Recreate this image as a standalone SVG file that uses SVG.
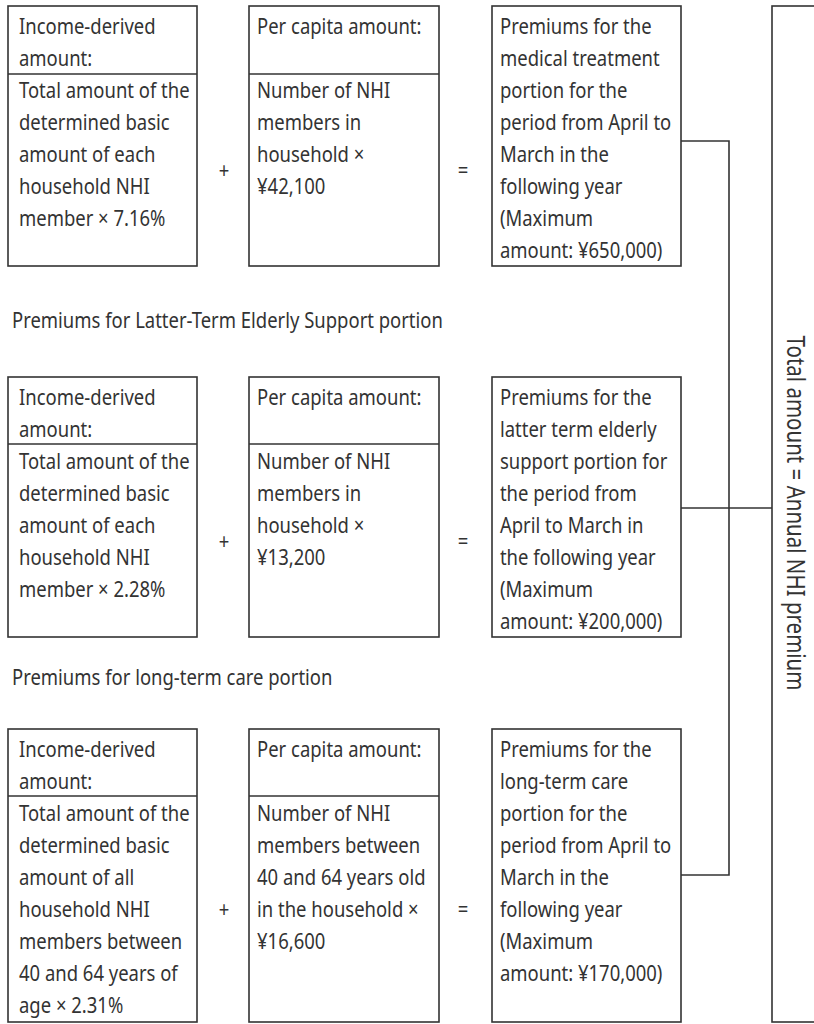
<svg xmlns="http://www.w3.org/2000/svg" width="814" height="1024" viewBox="0 0 814 1024">
<style>
.box{fill:#fff;stroke:#333;stroke-width:1.6}
.ln{fill:none;stroke:#333;stroke-width:1.6}
text{font-family:"Noto Sans","Open Sans",sans-serif;font-size:22px;fill:#333}
.op{text-anchor:middle}
.vt{font-size:25px;text-anchor:middle}
</style>
<rect width="814" height="1024" fill="#fff"/>
<g id="connectors">
<polyline class="ln" points="681,141 729,141 729,875 681,875"/>
<line class="ln" x1="681" y1="508" x2="772" y2="508"/>
</g>
<g id="total">
<rect class="box" x="772" y="6" width="60" height="1016"/>
<text class="vt" transform="translate(787,513) rotate(90) scale(0.82,1)" x="0" y="0">Total amount = Annual NHI premium</text>
</g>
<g id="row1">
<g id="r1-income">
<rect class="box" x="8" y="6" width="189" height="260"/>
<line class="ln" x1="8" y1="74" x2="197" y2="74"/>
<g transform="scale(0.84,1)">
<text x="22.6" y="34">Income-derived</text>
<text x="22.6" y="66">amount:</text>
<text x="22.6" y="98">Total amount of the</text>
<text x="22.6" y="130">determined basic</text>
<text x="22.6" y="162">amount of each</text>
<text x="22.6" y="194">household NHI</text>
<text x="22.6" y="226">member × 7.16%</text>
</g>
</g>
<text class="op" transform="scale(0.84,1)" x="266.7" y="178">+</text>
<g id="r1-capita">
<rect class="box" x="249" y="6" width="190" height="260"/>
<line class="ln" x1="249" y1="74" x2="439" y2="74"/>
<g transform="scale(0.84,1)">
<text x="306" y="34">Per capita amount:</text>
<text x="306" y="98">Number of NHI</text>
<text x="306" y="130">members in</text>
<text x="306" y="162">household ×</text>
<text x="306" y="194">¥42,100</text>
</g>
</g>
<text class="op" transform="scale(0.84,1)" x="551.2" y="178">=</text>
<g id="r1-result">
<rect class="box" x="492" y="6" width="189" height="260"/>
<g transform="scale(0.84,1)">
<text x="595.2" y="34">Premiums for the</text>
<text x="595.2" y="66">medical treatment</text>
<text x="595.2" y="98">portion for the</text>
<text x="595.2" y="130">period from April to</text>
<text x="595.2" y="162">March in the</text>
<text x="595.2" y="194">following year</text>
<text x="595.2" y="226">(Maximum</text>
<text x="595.2" y="258">amount: ¥650,000)</text>
</g>
</g>
</g>
<g id="row2">
<text id="h2" transform="scale(0.84,1)" x="14.3" y="328">Premiums for Latter-Term Elderly Support portion</text>
<g id="r2-income">
<rect class="box" x="8" y="377" width="189" height="260"/>
<line class="ln" x1="8" y1="444" x2="197" y2="444"/>
<g transform="scale(0.84,1)">
<text x="22.6" y="405">Income-derived</text>
<text x="22.6" y="437">amount:</text>
<text x="22.6" y="469">Total amount of the</text>
<text x="22.6" y="501">determined basic</text>
<text x="22.6" y="533">amount of each</text>
<text x="22.6" y="565">household NHI</text>
<text x="22.6" y="597">member × 2.28%</text>
</g>
</g>
<text class="op" transform="scale(0.84,1)" x="266.7" y="549">+</text>
<g id="r2-capita">
<rect class="box" x="249" y="377" width="190" height="260"/>
<line class="ln" x1="249" y1="444" x2="439" y2="444"/>
<g transform="scale(0.84,1)">
<text x="306" y="405">Per capita amount:</text>
<text x="306" y="469">Number of NHI</text>
<text x="306" y="501">members in</text>
<text x="306" y="533">household ×</text>
<text x="306" y="565">¥13,200</text>
</g>
</g>
<text class="op" transform="scale(0.84,1)" x="551.2" y="549">=</text>
<g id="r2-result">
<rect class="box" x="492" y="377" width="189" height="260"/>
<g transform="scale(0.84,1)">
<text x="595.2" y="405">Premiums for the</text>
<text x="595.2" y="437">latter term elderly</text>
<text x="595.2" y="469">support portion for</text>
<text x="595.2" y="501">the period from</text>
<text x="595.2" y="533">April to March in</text>
<text x="595.2" y="565">the following year</text>
<text x="595.2" y="597">(Maximum</text>
<text x="595.2" y="629">amount: ¥200,000)</text>
</g>
</g>
</g>
<g id="row3">
<text id="h3" transform="scale(0.84,1)" x="14.3" y="685">Premiums for long-term care portion</text>
<g id="r3-income">
<rect class="box" x="8" y="729" width="189" height="293"/>
<line class="ln" x1="8" y1="796" x2="197" y2="796"/>
<g transform="scale(0.84,1)">
<text x="22.6" y="757">Income-derived</text>
<text x="22.6" y="789">amount:</text>
<text x="22.6" y="821">Total amount of the</text>
<text x="22.6" y="853">determined basic</text>
<text x="22.6" y="885">amount of all</text>
<text x="22.6" y="917">household NHI</text>
<text x="22.6" y="949">members between</text>
<text x="22.6" y="981">40 and 64 years of</text>
<text x="22.6" y="1013">age × 2.31%</text>
</g>
</g>
<text class="op" transform="scale(0.84,1)" x="266.7" y="917">+</text>
<g id="r3-capita">
<rect class="box" x="249" y="729" width="190" height="293"/>
<line class="ln" x1="249" y1="796" x2="439" y2="796"/>
<g transform="scale(0.84,1)">
<text x="306" y="757">Per capita amount:</text>
<text x="306" y="821">Number of NHI</text>
<text x="306" y="853">members between</text>
<text x="306" y="885">40 and 64 years old</text>
<text x="306" y="917">in the household ×</text>
<text x="306" y="949">¥16,600</text>
</g>
</g>
<text class="op" transform="scale(0.84,1)" x="551.2" y="917">=</text>
<g id="r3-result">
<rect class="box" x="492" y="729" width="189" height="293"/>
<g transform="scale(0.84,1)">
<text x="595.2" y="757">Premiums for the</text>
<text x="595.2" y="789">long-term care</text>
<text x="595.2" y="821">portion for the</text>
<text x="595.2" y="853">period from April to</text>
<text x="595.2" y="885">March in the</text>
<text x="595.2" y="917">following year</text>
<text x="595.2" y="949">(Maximum</text>
<text x="595.2" y="981">amount: ¥170,000)</text>
</g>
</g>
</g>
</svg>
